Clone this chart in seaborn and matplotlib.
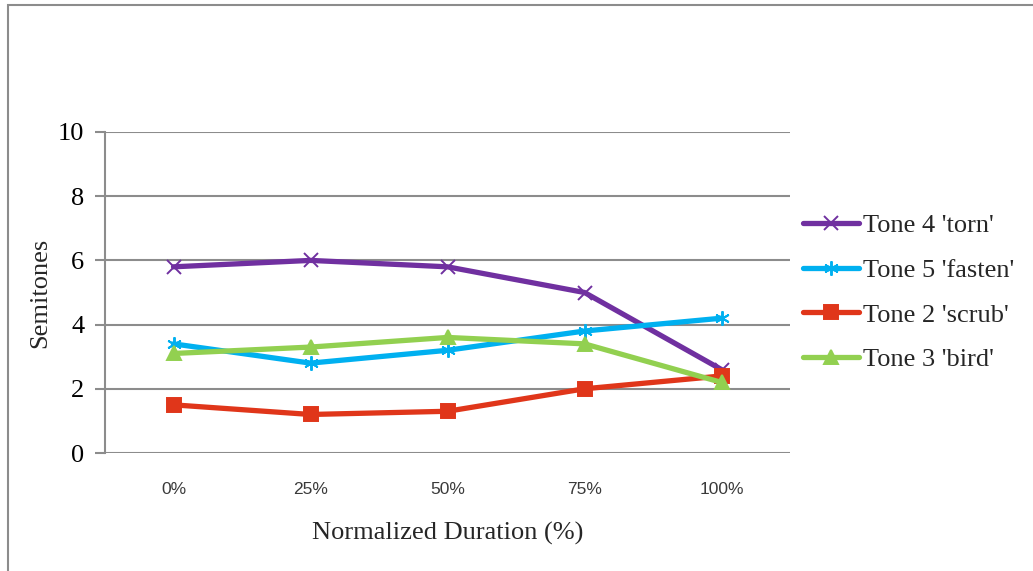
import matplotlib
matplotlib.use("Agg")
import matplotlib.pyplot as plt
import seaborn as sns
import pandas as pd
from matplotlib.patches import Rectangle
from matplotlib import font_manager

# Data
durations = ["0%", "25%", "50%", "75%", "100%"]
tone4_torn = [5.8, 6.0, 5.8, 5.0, 2.6]
tone5_fasten = [3.4, 2.8, 3.2, 3.8, 4.2]
tone2_scrub = [1.5, 1.2, 1.3, 2.0, 2.4]
tone3_bird = [3.1, 3.3, 3.6, 3.4, 2.2]
series_names = ["Tone 4 'torn'", "Tone 5 'fasten'", "Tone 2 'scrub'", "Tone 3 'bird'"]
series_values = [tone4_torn, tone5_fasten, tone2_scrub, tone3_bird]
y_ticks = [0, 2, 4, 6, 8, 10]

colors = ["#7030A0", "#00B0F0", "#E0361A", "#92D050"]
markers = ["x", (6, 2, 0), "s", "^"]
marker_sizes = [13, 13, 12, 12]

sns.set_theme(style="white")
plt.rcParams["font.family"] = ["Liberation Serif", "DejaVu Serif"]

names_avail = {f.name for f in font_manager.fontManager.ttflist}
tick_font = "Liberation Sans Narrow" if "Liberation Sans Narrow" in names_avail else "Liberation Sans"

fig = plt.figure(figsize=(10.33, 5.71), dpi=100)
ax = fig.add_axes([105 / 1033, 1 - 453 / 571, 685 / 1033, 321 / 571])

for name, vals, c, m, ms in zip(series_names, series_values, colors, markers, marker_sizes):
    df = pd.DataFrame({"pos": range(len(vals)), "Semitones": vals})
    sns.lineplot(data=df, x="pos", y="Semitones", color=c, marker=m,
                 markersize=ms, markeredgewidth=1.4, markeredgecolor=c,
                 linewidth=3.8, solid_capstyle="round", ax=ax, label=name)

ax.set_xlim(-0.5, 4.5)
ax.set_ylim(0, 10)
ax.set_yticks(y_ticks)
ax.set_yticklabels([str(t) for t in y_ticks], fontsize=19)
ax.set_xticks(range(len(durations)))
ax.set_xticklabels(durations, fontsize=12.5, family=tick_font, color="#3A3A3A")
ax.yaxis.grid(True, color="#8C8C8C", linewidth=1.5)
ax.set_axisbelow(True)
for side in ["top", "right", "bottom"]:
    ax.spines[side].set_visible(False)
ax.spines["left"].set_color("#8C8C8C")
ax.spines["left"].set_linewidth(1.5)
ax.tick_params(axis="y", which="major", left=True, length=7, width=1.5,
               color="#8C8C8C", pad=8, labelcolor="black")
ax.tick_params(axis="x", length=0, pad=21)

ax.set_xlabel("Normalized Duration (%)", fontsize=19, labelpad=18)
ax.set_ylabel("Semitones", fontsize=19, labelpad=5)

handles, labels = ax.get_legend_handles_labels()
for h, ms in zip(handles, marker_sizes):
    h.set_markersize(ms * 0.8)
leg = ax.legend(handles, labels, loc="center left", bbox_to_anchor=(1.0, 0.5),
                frameon=False, fontsize=19, handlelength=2.1, handletextpad=0.15,
                labelspacing=0.8, borderaxespad=0.1)

# Chart area border
fig.patches.append(Rectangle((8 / 1033, -0.2), 1.3, (566 / 571) + 0.2,
                             transform=fig.transFigure, fill=False,
                             edgecolor="#8C8C8C", linewidth=1.5, zorder=0))

fig.savefig("out.png", dpi=100)
